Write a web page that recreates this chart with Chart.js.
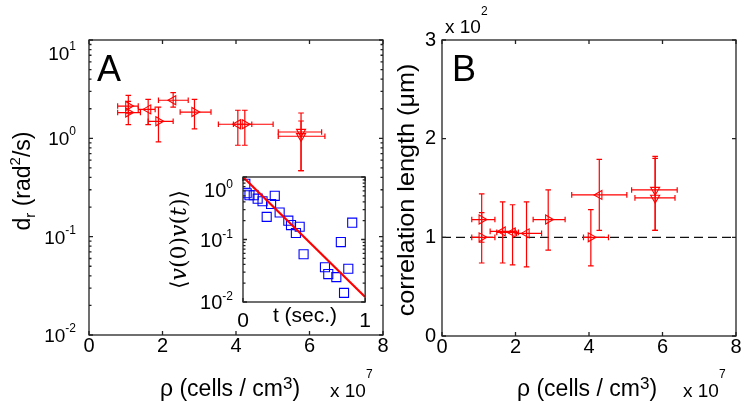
<!DOCTYPE html>
<html lang="en">
  <head>
    <meta charset="utf-8" />
    <script src="https://cdn.jsdelivr.net/npm/chart.js"></script>
    <title>index</title>
    <style>
      body { margin: 0; background: #fff; }
      #wrap { position: relative; width: 748px; height: 404px; overflow: hidden; }
      canvas { position: absolute; }
    </style>
  </head>
  <body>
    <div id="wrap">
      <canvas id="chartA" width="390" height="404" style="left:0;top:0"></canvas>
      <canvas id="chartB" width="358" height="404" style="left:390px;top:0"></canvas>
      <canvas id="inset" width="230" height="175" style="left:150px;top:160px"></canvas>
    </div>
    <script>
      // panel A: d_r vs density (density in units of 1e7 cells/cm3)
      const rhoA = [1.07, 1.07, 1.61, 1.89, 2.29, 2.87, 4.05, 4.24, 5.77, 5.77];
      const rhoA_lo = [0.78, 0.78, 1.34, 1.61, 1.89, 2.48, 3.52, 3.93, 5.15, 5.15];
      const rhoA_hi = [1.34, 1.4, 1.8, 2.29, 2.7, 3.32, 4.43, 5.01, 6.33, 6.42];
      const drA = [2.13, 1.83, 1.97, 1.49, 2.44, 1.85, 1.39, 1.39, 1.16, 1.05];
      const drA_lo = [1.8, 1.38, 1.38, 0.92, 2.08, 1.25, 0.85, 0.85, 0.47, 0.47];
      const drA_hi = [2.74, 2.38, 2.49, 2.08, 2.92, 2.49, 1.93, 1.93, 1.81, 1.5];

      // panel B: correlation length (units of 1e2 um)
      const rhoB = [1.08, 1.08, 1.65, 1.92, 2.3, 2.89, 4.05, 4.28, 5.8, 5.8];
      const rhoB_lo = [0.81, 0.81, 1.31, 1.49, 2.03, 2.48, 3.85, 3.53, 5.16, 5.25];
      const rhoB_hi = [1.44, 1.44, 1.99, 2.08, 2.71, 3.35, 4.53, 5.03, 6.4, 6.34];
      const lenB = [1.18, 1.0, 1.06, 1.05, 1.04, 1.18, 1.0, 1.43, 1.48, 1.4];
      const lenB_lo = [0.95, 0.74, 0.74, 0.72, 0.7, 0.87, 0.71, 1.07, 1.07, 1.07];
      const lenB_hi = [1.44, 1.25, 1.36, 1.33, 1.36, 1.48, 1.28, 1.79, 1.82, 1.8];
      const refX = [0, 8];
      const refY = [1, 1];

      // inset: velocity autocorrelation
      const tI = [0.019, 0.03, 0.053, 0.088, 0.12, 0.16, 0.23, 0.26, 0.194, 0.3, 0.371,
        0.393, 0.464, 0.433, 0.496, 0.671, 0.698, 0.764, 0.801, 0.894, 0.862, 0.827];
      const cI = [0.78, 0.55, 0.51, 0.51, 0.45, 0.41, 0.37, 0.5, 0.23, 0.27, 0.2,
        0.17, 0.16, 0.127, 0.058, 0.036, 0.028, 0.025, 0.091, 0.186, 0.034, 0.014];
      const fitT = [0, 1];
      const fitC = [1.0, 0.012];

      const xTicks = [0, 2, 4, 6, 8];

      // marker orientation per point
      const markA = ["right", "right", "left", "right", "left", "right", "left", "right", "down", "down"];
      const markB = ["right", "right", "left", "left", "left", "right", "right", "left", "down", "down"];

      const FONT = "'Liberation Sans', Arial, sans-serif";
      const RED = "#ff0000";
      const INK = "#000";
      const rotOf = { right: 90, left: -90, down: 180, up: 0 };

      function pts(xs, ys) {
        return xs.map((v, i) => ({ x: v, y: ys[i] }));
      }

      // text with sub/superscripts; parts = [[text, kind, style]]
      function rich(ctx, parts, x, y, o) {
        const size = o.size;
        const small = o.supSize || size * 0.65;
        const fam = o.fam || FONT;
        const font = (k, sty) => (sty || "") + " " + (k ? small : size) + "px " + fam;
        ctx.save();
        ctx.translate(x, y);
        if (o.rot) ctx.rotate((o.rot * Math.PI) / 180);
        ctx.scale(o.sx || 1, o.sy || 1);
        ctx.fillStyle = INK;
        ctx.textAlign = "left";
        ctx.textBaseline = "alphabetic";
        let w = 0;
        for (const [t, k, sty] of parts) {
          ctx.font = font(k, sty);
          w += ctx.measureText(t).width;
        }
        let cx = o.align === "center" ? -w / 2 : o.align === "right" ? -w : 0;
        for (const [t, k, sty] of parts) {
          ctx.font = font(k, sty);
          const dy = k === "sup" ? -(o.raise || size * 0.4) : k === "sub" ? o.drop || size * 0.22 : 0;
          ctx.fillText(t, cx, dy);
          cx += ctx.measureText(t).width;
        }
        ctx.restore();
      }

      function logMinor(e0, e1) {
        const out = [];
        for (let e = e0; e < e1; e++) for (let m = 2; m <= 9; m++) out.push(m * Math.pow(10, e));
        return out;
      }

      function frame(chart, xt, yt, yMinor) {
        const { ctx, chartArea: a, scales } = chart;
        ctx.save();
        ctx.strokeStyle = "#222";
        ctx.lineWidth = 1.3;
        ctx.strokeRect(a.left, a.top, a.right - a.left, a.bottom - a.top);
        ctx.beginPath();
        const L = 4;
        xt.forEach((v) => {
          const p = scales.x.getPixelForValue(v);
          ctx.moveTo(p, a.bottom); ctx.lineTo(p, a.bottom - L);
          ctx.moveTo(p, a.top); ctx.lineTo(p, a.top + L);
        });
        yt.forEach((v) => {
          const p = scales.y.getPixelForValue(v);
          ctx.moveTo(a.left, p); ctx.lineTo(a.left + L, p);
          ctx.moveTo(a.right, p); ctx.lineTo(a.right - L, p);
        });
        (yMinor || []).forEach((v) => {
          const p = scales.y.getPixelForValue(v);
          ctx.moveTo(a.left, p); ctx.lineTo(a.left + 2.5, p);
          ctx.moveTo(a.right, p); ctx.lineTo(a.right - 2.5, p);
        });
        ctx.stroke();
        ctx.restore();
      }

      function logLabels(chart, decades, rightX, o) {
        const { ctx, chartArea: a, scales } = chart;
        decades.forEach((v) => {
          const p = scales.y.getPixelForValue(v);
          const e = Math.round(Math.log10(v));
          const base = Math.max(p + 7, a.top + 20);
          rich(ctx, [["10"], [String(e), "sup"]], rightX, base, o);
        });
      }

      const errorBars = {
        id: "errorBars",
        afterDatasetsDraw(chart) {
          const { ctx, scales: { x, y } } = chart;
          chart.data.datasets.forEach((ds) => {
            if (!ds.xLo) return;
            ctx.save();
            ctx.strokeStyle = ds.borderColor;
            ctx.lineWidth = 1.2;
            const c = 2.8;
            ds.data.forEach((p, i) => {
              const px = x.getPixelForValue(p.x);
              const py = y.getPixelForValue(p.y);
              const x0 = x.getPixelForValue(ds.xLo[i]);
              const x1 = x.getPixelForValue(ds.xHi[i]);
              const y0 = y.getPixelForValue(ds.yLo[i]);
              const y1 = y.getPixelForValue(ds.yHi[i]);
              ctx.beginPath();
              ctx.moveTo(x0, py); ctx.lineTo(x1, py);
              ctx.moveTo(x0, py - c); ctx.lineTo(x0, py + c);
              ctx.moveTo(x1, py - c); ctx.lineTo(x1, py + c);
              ctx.moveTo(px, y0); ctx.lineTo(px, y1);
              ctx.moveTo(px - c, y0); ctx.lineTo(px + c, y0);
              ctx.moveTo(px - c, y1); ctx.lineTo(px + c, y1);
              ctx.stroke();
            });
            ctx.restore();
          });
        },
      };

      function markerSet(xs, ys, lo, hi, ylo, yhi, marks) {
        return {
          data: pts(xs, ys),
          xLo: lo, xHi: hi, yLo: ylo, yHi: yhi,
          borderColor: RED,
          backgroundColor: "rgba(0,0,0,0)",
          pointStyle: marks.map(() => "triangle"),
          pointRotation: marks.map((m) => rotOf[m]),
          pointRadius: 5.2,
          pointBorderWidth: 1.1,
        };
      }

      const tickFont = { family: FONT, size: 20, lineHeight: 1 };
      const noGrid = { display: false, drawTicks: false };

      // ---------- panel A ----------
      new Chart(document.getElementById("chartA"), {
        type: "scatter",
        data: {
          datasets: [markerSet(rhoA, drA, rhoA_lo, rhoA_hi, drA_lo, drA_hi, markA)],
        },
        options: {
          responsive: false,
          animation: false,
          events: [],
          layout: { padding: { top: 40, right: 7, left: 0, bottom: 0 } },
          plugins: { legend: { display: false }, tooltip: { enabled: false } },
          scales: {
            x: {
              type: "linear", min: 0, max: 8,
              afterFit: (s) => { s.height = 69; },
              grid: noGrid, border: { display: false },
              ticks: { stepSize: 2, font: tickFont, color: INK, padding: 1, maxRotation: 0, autoSkip: false },
            },
            y: {
              type: "logarithmic", min: 0.01, max: 10,
              afterFit: (s) => { s.width = 89; },
              grid: noGrid, border: { display: false },
              ticks: { display: false },
            },
          },
        },
        plugins: [
          errorBars,
          {
            id: "decoA",
            afterDraw(chart) {
              const ctx = chart.ctx;
              frame(chart, xTicks, [0.01, 0.1, 1, 10], logMinor(-2, 1));
              logLabels(chart, [0.01, 0.1, 1, 10], 76, { size: 19, supSize: 12, raise: 10, align: "right" });
              rich(ctx, [["A"]], 97, 81, { size: 36 });
              rich(ctx, [["d"], ["r", "sub"], [" (rad"], ["2", "sup"], ["/s)"]], 30, 181,
                { size: 23, rot: -90, align: "center", raise: 10, drop: 5 });
              rich(ctx, [["ρ (cells / cm"], ["3", "sup"], [")"]], 230, 396,
                { size: 23, supSize: 17, raise: 7, align: "center" });
              rich(ctx, [["x 10"], ["7", "sup"]], 330, 397, { size: 19, supSize: 12, raise: 19 });
            },
          },
        ],
      });

      // ---------- panel B ----------
      new Chart(document.getElementById("chartB"), {
        type: "scatter",
        data: {
          datasets: [
            markerSet(rhoB, lenB, rhoB_lo, rhoB_hi, lenB_lo, lenB_hi, markB),
            {
              data: pts(refX, refY),
              showLine: true,
              borderColor: "#111",
              borderWidth: 1.4,
              borderDash: [9, 5],
              pointRadius: 0,
            },
          ],
        },
        options: {
          responsive: false,
          animation: false,
          events: [],
          layout: { padding: { top: 40, right: 12, left: 0, bottom: 0 } },
          plugins: { legend: { display: false }, tooltip: { enabled: false } },
          scales: {
            x: {
              type: "linear", min: 0, max: 8,
              afterFit: (s) => { s.height = 68; },
              grid: noGrid, border: { display: false },
              ticks: { stepSize: 2, font: tickFont, color: INK, padding: 1, maxRotation: 0, autoSkip: false },
            },
            y: {
              type: "linear", min: 0, max: 3,
              afterFit: (s) => { s.width = 52; },
              grid: noGrid, border: { display: false },
              ticks: { stepSize: 1, font: tickFont, color: INK, padding: 6 },
            },
          },
        },
        plugins: [
          errorBars,
          {
            id: "decoB",
            afterDraw(chart) {
              const ctx = chart.ctx;
              frame(chart, xTicks, [0, 1, 2, 3]);
              rich(ctx, [["B"]], 62, 81, { size: 36 });
              rich(ctx, [["correlation length (μm)"]], 24, 190,
                { size: 24, rot: -90, align: "center", sx: 1.05 });
              rich(ctx, [["ρ (cells / cm"], ["3", "sup"], [")"]], 197, 396,
                { size: 23, supSize: 17, raise: 7, align: "center" });
              rich(ctx, [["x 10"], ["7", "sup"]], 293, 397, { size: 19, supSize: 12, raise: 19 });
              rich(ctx, [["x 10"], ["2", "sup"]], 55, 33, { size: 19, supSize: 12, raise: 18 });
            },
          },
        ],
      });

      // ---------- inset ----------
      new Chart(document.getElementById("inset"), {
        type: "scatter",
        data: {
          datasets: [
            {
              data: pts(fitT, fitC),
              showLine: true,
              borderColor: RED,
              borderWidth: 2.2,
              pointRadius: 0,
            },
            {
              data: pts(tI, cI),
              borderColor: "#0000ff",
              backgroundColor: "rgba(0,0,0,0)",
              pointStyle: "rect",
              pointRadius: 6.4,
              pointBorderWidth: 1.1,
            },
          ],
        },
        options: {
          responsive: false,
          animation: false,
          events: [],
          layout: { padding: { top: 17, right: 11, left: 0, bottom: 0 } },
          plugins: { legend: { display: false }, tooltip: { enabled: false } },
          scales: {
            x: {
              type: "linear", min: 0, max: 1,
              afterFit: (s) => { s.height = 33; },
              grid: noGrid, border: { display: false },
              ticks: { stepSize: 1, font: { family: FONT, size: 21, lineHeight: 1 }, color: INK, padding: 9, maxRotation: 0 },
            },
            y: {
              type: "logarithmic", min: 0.01, max: 1,
              afterFit: (s) => { s.width = 93; },
              grid: noGrid, border: { display: false },
              ticks: { display: false },
            },
          },
        },
        plugins: [
          {
            id: "decoI",
            afterDraw(chart) {
              const ctx = chart.ctx;
              const a = chart.chartArea;
              frame(chart, [0, 1], [0.01, 0.1, 1], logMinor(-2, 0));
              logLabels(chart, [0.01, 0.1, 1], 83, { size: 20, supSize: 12, raise: 9, align: "right" });
              rich(ctx, [["t (sec.)"]], 155, 162, { size: 21, align: "center" });
              rich(ctx, [["⟨"], ["v", "", "italic"], ["(0)"], ["v", "", "italic"], ["("], ["t", "", "italic"], [")⟩"]],
                36, (a.top + a.bottom) / 2,
                { size: 22, rot: -90, align: "center", fam: "'DejaVu Serif', 'Liberation Serif', serif" });
            },
          },
        ],
      });
    </script>
  </body>
</html>
